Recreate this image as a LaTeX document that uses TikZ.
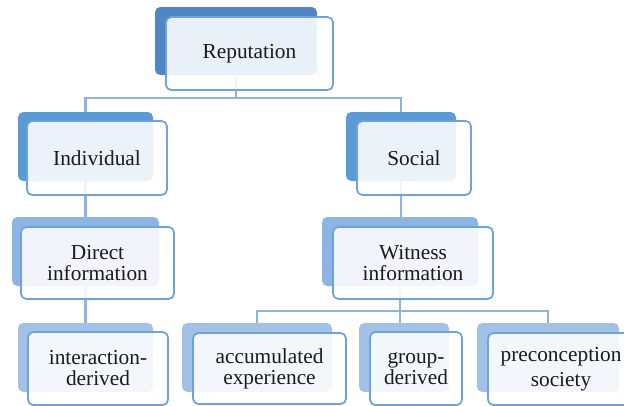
\documentclass[tikz,border=0pt]{standalone}
\usepackage{fontspec}
\setmainfont{Liberation Serif}
\definecolor{backA}{HTML}{4F86C3}
\definecolor{backB}{HTML}{5B9BD5}
\definecolor{backC}{HTML}{8EB4E3}
\definecolor{backD}{HTML}{A3C0E5}
\definecolor{frontline}{HTML}{6FA2DA}
\definecolor{connc}{HTML}{8DB3E2}
\definecolor{txt}{HTML}{1A1A1A}
\begin{document}
\begin{tikzpicture}[x=0.75pt,y=-0.75pt,
  backbox/.style={rounded corners=4pt, inner sep=0pt, draw=none},
  frontbox/.style={rounded corners=4pt, draw=frontline, line width=1.3pt, fill=white,
    fill opacity=0.88, text opacity=1, text=txt, align=center, inner sep=0pt,
    font=\fontsize{16}{15.75}\selectfont},
  conn/.style={draw=connc, line width=1.6pt}]
\useasboundingbox (0,0) rectangle (624,405);
\clip (0,0) rectangle (624,405);
% back boxes
\node[backbox, fill=backA, minimum width=162*0.75pt, minimum height=68*0.75pt] (repB) at (236,41) {};
\node[backbox, fill=backB, minimum width=135*0.75pt, minimum height=69*0.75pt] (indB) at (85.5,146.5) {};
\node[backbox, fill=backB, minimum width=110*0.75pt, minimum height=69*0.75pt] (socB) at (401,146.5) {};
\node[backbox, fill=backC, minimum width=147*0.75pt, minimum height=69*0.75pt] (dirB) at (85.5,251.5) {};
\node[backbox, fill=backC, minimum width=156*0.75pt, minimum height=69*0.75pt] (witB) at (400,251.5) {};
\node[backbox, fill=backD, minimum width=135*0.75pt, minimum height=69*0.75pt] (intB) at (85.5,357.5) {};
\node[backbox, fill=backD, minimum width=150*0.75pt, minimum height=69*0.75pt] (accB) at (257,357.5) {};
\node[backbox, fill=backD, minimum width=90*0.75pt, minimum height=69*0.75pt] (groB) at (404,357.5) {};
\node[backbox, fill=backD, minimum width=142*0.75pt, minimum height=69*0.75pt] (preB) at (548,357.5) {};
% connectors
\coordinate (j1) at (236,98);
\coordinate (j2) at (400,311);
\draw[conn] (repB.south) -- (j1) -| (indB.north);
\draw[conn] (j1) -| (socB.north);
\draw[conn] (indB.south) -- (dirB.north);
\draw[conn] (dirB.south) -- (intB.north);
\draw[conn] (socB.south) -- (socB.south |- witB.north);
\draw[conn] (witB.south) -- (j2) -| (accB.north);
\draw[conn] (j2) -| (preB.north);
\draw[conn] (j2) -- (j2 |- groB.north);
% front boxes
\node[frontbox, minimum width=167*0.75pt, minimum height=73*0.75pt] (rep) at (249.5,53.5) {Reputation};
\node[frontbox, minimum width=140*0.75pt, minimum height=74*0.75pt] (ind) at (97,158) {Individual};
\node[frontbox, minimum width=114*0.75pt, minimum height=74*0.75pt] (soc) at (414,158) {Social};
\node[frontbox, minimum width=153*0.75pt, minimum height=72*0.75pt] (dir) at (97.5,263) {Direct\\information};
\node[frontbox, minimum width=160*0.75pt, minimum height=72*0.75pt] (wit) at (413,263) {Witness\\information};
\node[frontbox, minimum width=140*0.75pt, minimum height=73*0.75pt] (int) at (98,368.5) {interaction-\\derived};
\node[frontbox, minimum width=153*0.75pt, minimum height=71*0.75pt] (acc) at (269.5,368.5) {accumulated\\experience};
\node[frontbox, minimum width=92*0.75pt, minimum height=73*0.75pt] (gro) at (416,368.5) {group-\\derived};
\node[frontbox, minimum width=146*0.75pt, minimum height=72*0.75pt] (pre) at (561,369) {preconception\\[3pt]society};
\end{tikzpicture}
\end{document}
